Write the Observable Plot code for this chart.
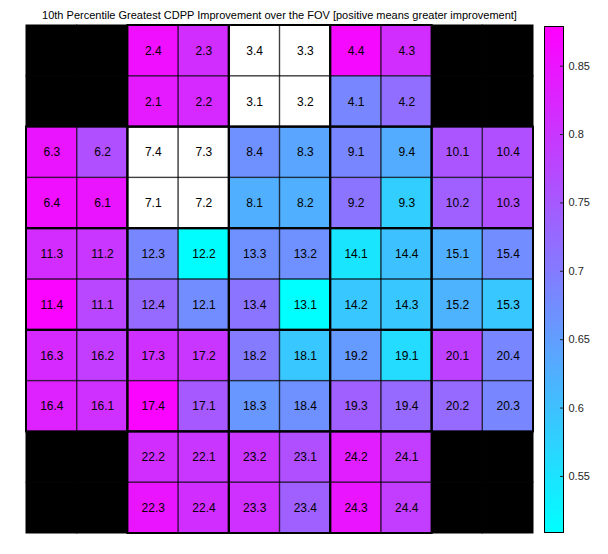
<!DOCTYPE html>
<html><head><meta charset="utf-8">
<script src="https://cdn.jsdelivr.net/npm/d3@7"></script>
<script src="https://cdn.jsdelivr.net/npm/@observablehq/plot@0.6"></script>
<style>
body{margin:0;background:#fff;font-family:"Liberation Sans",Arial,Helvetica,sans-serif;}
#wrap{position:relative;width:608px;height:554px;}
#title{position:absolute;left:0;top:8px;width:559px;text-align:center;font-size:11px;color:#000;line-height:14px;}
#main{position:absolute;left:0;top:20px;}
#bar{position:absolute;left:544px;top:20px;}
</style></head>
<body><div id="wrap"><div id="title">10th Percentile Greatest CDPP Improvement over the FOV [positive means greater improvement]</div><div id="main"></div><div id="bar"></div></div>
<script>
const titleText = "10th Percentile Greatest CDPP Improvement over the FOV [positive means greater improvement]";
// "" = no channel (black corner); label with null value = missing (white)
const rowLabels = [
  ["", "", "2.4", "2.3", "3.4", "3.3", "4.4", "4.3", "", ""],
  ["", "", "2.1", "2.2", "3.1", "3.2", "4.1", "4.2", "", ""],
  ["6.3", "6.2", "7.4", "7.3", "8.4", "8.3", "9.1", "9.4", "10.1", "10.4"],
  ["6.4", "6.1", "7.1", "7.2", "8.1", "8.2", "9.2", "9.3", "10.2", "10.3"],
  ["11.3", "11.2", "12.3", "12.2", "13.3", "13.2", "14.1", "14.4", "15.1", "15.4"],
  ["11.4", "11.1", "12.4", "12.1", "13.4", "13.1", "14.2", "14.3", "15.2", "15.3"],
  ["16.3", "16.2", "17.3", "17.2", "18.2", "18.1", "19.2", "19.1", "20.1", "20.4"],
  ["16.4", "16.1", "17.4", "17.1", "18.3", "18.4", "19.3", "19.4", "20.2", "20.3"],
  ["", "", "22.2", "22.1", "23.2", "23.1", "24.2", "24.1", "", ""],
  ["", "", "22.3", "22.4", "23.3", "23.4", "24.3", "24.4", "", ""]
];
const rowValues = [
  [null, null, 0.857, 0.813, null, null, 0.864, 0.813, null, null],
  [null, null, 0.842, 0.820, null, null, 0.683, 0.720, null, null],
  [0.850, 0.764, null, null, 0.668, 0.640, 0.683, 0.630, 0.756, 0.764],
  [0.857, 0.850, null, null, 0.625, 0.625, 0.710, 0.580, 0.740, 0.764],
  [0.815, 0.800, 0.683, 0.512, 0.668, 0.668, 0.546, 0.598, 0.625, 0.675],
  [0.872, 0.776, 0.726, 0.675, 0.710, 0.509, 0.590, 0.590, 0.620, 0.590],
  [0.820, 0.790, 0.810, 0.800, 0.700, 0.590, 0.655, 0.560, 0.785, 0.683],
  [0.830, 0.810, 0.872, 0.750, 0.660, 0.668, 0.740, 0.726, 0.726, 0.683],
  [null, null, 0.813, 0.800, 0.800, 0.764, 0.835, 0.790, null, null],
  [null, null, 0.850, 0.813, 0.810, 0.740, 0.850, 0.790, null, null]
];
const colorDomain = [0.509, 0.879];
const colorTicks = [0.55, 0.6, 0.65, 0.7, 0.75, 0.8, 0.85];

const cells = [];
rowLabels.forEach((row, r) => row.forEach((label, c) => {
  cells.push({row: r, col: c, label, value: rowValues[r][c],
    module: label ? label.split(".")[0] : null});
}));
const channels = cells.filter(d => d.label);
const corners = cells.filter(d => !d.label);
const modules = d3.groups(channels, d => d.module).map(([m, cs]) => ({
  module: m,
  x1: d3.min(cs, d => d.col), x2: d3.max(cs, d => d.col) + 1,
  y1: d3.min(cs, d => d.row), y2: d3.max(cs, d => d.row) + 1
}));

const colorOpts = {type: "linear", domain: colorDomain, range: ["#00ffff", "#ff00ff"], interpolate: "rgb"};
const font = "'Liberation Sans', Arial, Helvetica, sans-serif";

const main = Plot.plot({
  width: 608, height: 534,
  marginLeft: 26, marginRight: 75, marginTop: 5, marginBottom: 21,
  x: {domain: [0, 10], axis: null},
  y: {domain: [0, 10], reverse: true, axis: null},
  color: colorOpts,
  style: {fontFamily: font, background: "transparent"},
  marks: [
    Plot.rect(corners, {x1: "col", x2: d => d.col + 1, y1: "row", y2: d => d.row + 1, fill: "#000", stroke: "#000", strokeWidth: 1}),
    Plot.rect(channels, {x1: "col", x2: d => d.col + 1, y1: "row", y2: d => d.row + 1, fill: "#fff"}),
    Plot.rect(channels.filter(d => d.value != null), {x1: "col", x2: d => d.col + 1, y1: "row", y2: d => d.row + 1, fill: "value"}),
    Plot.rect(channels, {x1: "col", x2: d => d.col + 1, y1: "row", y2: d => d.row + 1, fill: "none", stroke: "#000", strokeOpacity: 0.5, strokeWidth: 1.3}),
    Plot.rect(modules, {x1: "x1", x2: "x2", y1: "y1", y2: "y2", fill: "none", stroke: "#000", strokeWidth: 2}),
    Plot.text(channels, {x: d => d.col + 0.5, y: d => d.row + 0.5, text: "label", fontSize: 12, fill: "#000"})
  ]
});
document.getElementById("main").append(main);

const bar = Plot.plot({
  width: 64, height: 534,
  marginLeft: 0, marginRight: 45, marginTop: 6, marginBottom: 22,
  x: {domain: [0, 1], axis: null},
  y: {domain: colorDomain},
  color: colorOpts,
  style: {fontFamily: font, fontSize: "11px", color: "#262626", background: "transparent"},
  marks: [
    Plot.raster({x1: 0, x2: 1, y1: colorDomain[0], y2: colorDomain[1], width: 1, height: 256, fill: (x, y) => y, imageRendering: "pixelated"}),
    Plot.ruleY(colorTicks, {y: d => d, insetLeft: 16, stroke: "#262626"}),
    Plot.frame({stroke: "#000", strokeWidth: 1}),
    Plot.axisY(colorTicks, {anchor: "right", tickSize: 0, tickPadding: 5, tickFormat: d => String(d), label: null, fontSize: 11})
  ]
});
document.getElementById("bar").append(bar);
</script>
</body></html>
